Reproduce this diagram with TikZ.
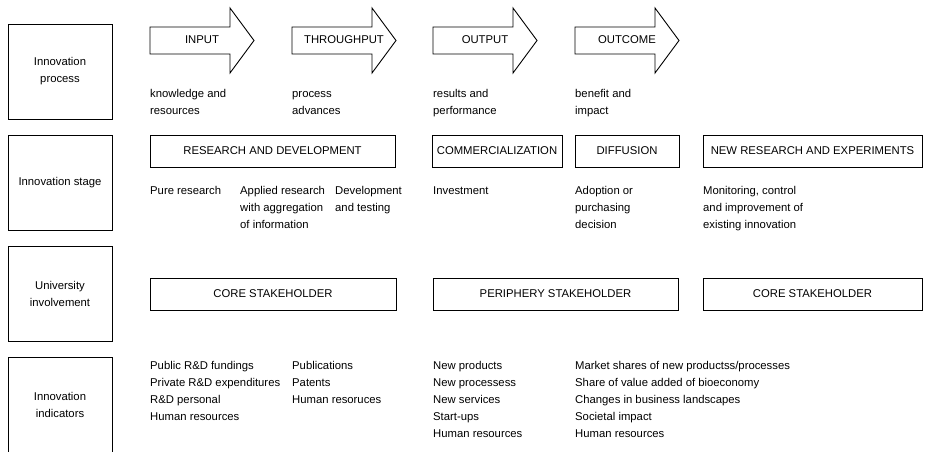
\documentclass[tikz,border=0pt]{standalone}
\usepackage{fontspec}
\setmainfont{Liberation Sans}
\newcommand{\capline}{\rule{0pt}{9pt}}
\tikzset{
  rowbox/.style={draw, line width=0.9pt, minimum width=104pt, minimum height=95pt, align=center, inner sep=0pt},
  stagebox/.style={draw, line width=0.9pt, minimum height=32pt, inner sep=0pt},
  phase/.style={draw, line width=0.9pt},
  note/.style={anchor=north west, align=left, inner sep=0pt},
}
\begin{document}
\begin{tikzpicture}[x=1pt, y=-1pt, font=\fontsize{11.3}{17}\selectfont]
  \useasboundingbox (0,0) rectangle (925,451);
  % row headings
  \node[rowbox] (process) at (60,71.5) {Innovation\\process};
  \node[rowbox] (stage) at (60,182.5) {Innovation stage};
  \node[rowbox] (univ) at (60,293.5) {University\\involvement};
  \node[rowbox] (indic) at (60,404.5) {Innovation\\indicators};
  % process arrows
  \foreach \x/\lbl/\nm in {150/INPUT/input, 292/THROUGHPUT/through, 433/OUTPUT/output, 575/OUTCOME/outcome} {
    \draw[phase] (\x,27) -- (\x+80,27) -- (\x+80,8) -- (\x+104,40.5)
      -- (\x+80,73) -- (\x+80,54) -- (\x,54) -- cycle;
    \node (\nm) at (\x+52,39.5) {\lbl};
  }
  \node[note] (knowl) at (150,88) {\capline knowledge and\\resources};
  \node[note] (advan) at (292,88) {\capline process\\advances};
  \node[note] (resul) at (433,88) {\capline results and\\performance};
  \node[note] (benef) at (575,88) {\capline benefit and\\impact};
  % innovation stages
  \node[stagebox, minimum width=245pt] (rd) at (272.5,151) {RESEARCH AND DEVELOPMENT};
  \node[stagebox, minimum width=130pt] (comm) at (497,151) {COMMERCIALIZATION};
  \node[stagebox, minimum width=104pt] (diff) at (627,151) {DIFFUSION};
  \node[stagebox, minimum width=219pt] (newres) at (812.5,151) {NEW RESEARCH AND EXPERIMENTS};
  \node[note] (pure) at (150,185) {\capline Pure research};
  \node[note] (appl) at (240,185) {\capline Applied research\\with aggregation\\of information};
  \node[note] (devel) at (335,185) {\capline Development\\and testing};
  \node[note] (invest) at (433,185) {\capline Investment};
  \node[note] (adopt) at (575,185) {\capline Adoption or\\purchasing\\decision};
  \node[note] (monit) at (703,185) {\capline Monitoring, control\\and improvement of\\existing innovation};
  % university involvement
  \node[stagebox, minimum width=246pt] (core1) at (273,294) {CORE STAKEHOLDER};
  \node[stagebox, minimum width=245pt] (peri) at (555.5,294) {PERIPHERY STAKEHOLDER};
  \node[stagebox, minimum width=219pt] (core2) at (812.5,294) {CORE STAKEHOLDER};
  % indicators
  \node[note] (ind1) at (150,360) {\capline Public R\&D fundings\\Private R\&D expenditures\\R\&D personal\\Human resources};
  \node[note] (ind2) at (292,360) {\capline Publications\\Patents\\Human resoruces};
  \node[note] (ind3) at (433,360) {\capline New products\\New processess\\New services\\Start-ups\\Human resources};
  \node[note] (ind4) at (575,360) {\capline Market shares of new productss/processes\\Share of value added of bioeconomy\\Changes in business landscapes\\Societal impact\\Human resources};
\end{tikzpicture}
\end{document}
